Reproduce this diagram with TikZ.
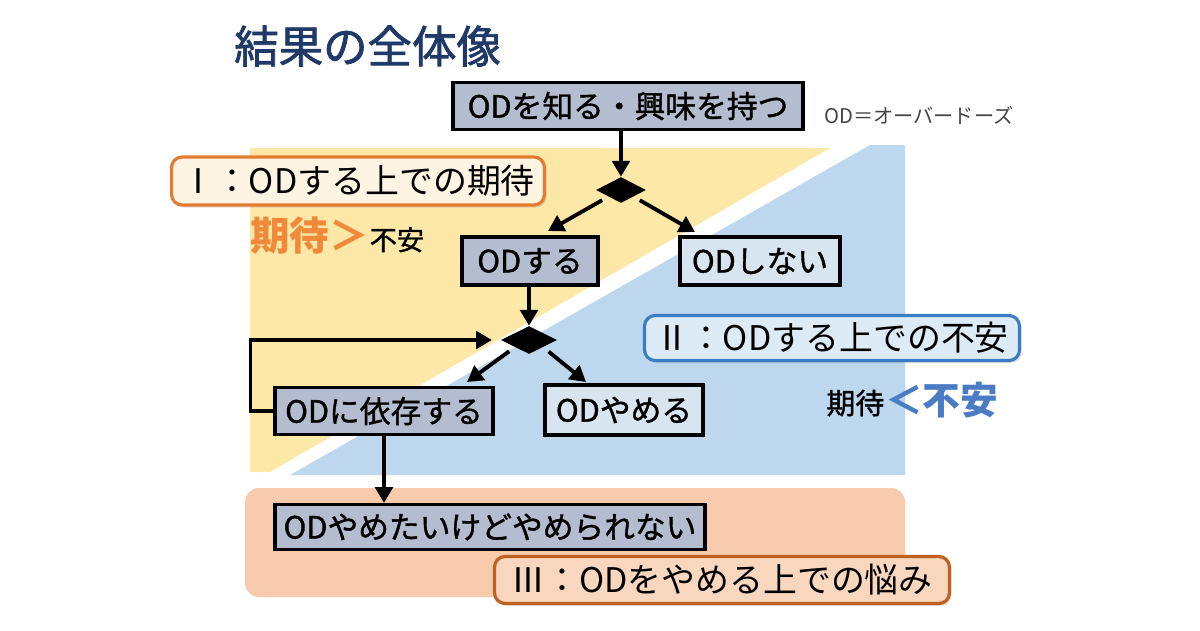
\documentclass[tikz,border=0pt]{standalone}
\usepackage{fontspec}
\setmainfont{Noto Sans CJK JP}
\newfontfamily\jpmed[FakeBold=1.2]{Noto Sans CJK JP}
\newfontfamily\jptitle[FakeBold=1.6]{Noto Sans CJK JP}
\usetikzlibrary{arrows.meta,shapes.geometric,shadows,calc}
\definecolor{yel}{HTML}{FEE8A8}
\definecolor{blu}{HTML}{BDD7EE}
\definecolor{sal}{HTML}{F8CBAD}
\definecolor{gfill}{HTML}{B4BDD0}
\definecolor{bfill}{HTML}{D9E4F1}
\definecolor{l1fill}{HTML}{FEF4E4}
\definecolor{l1draw}{HTML}{E47B2F}
\definecolor{l2fill}{HTML}{DDEBF7}
\definecolor{l2draw}{HTML}{3B7DC4}
\definecolor{l3fill}{HTML}{F9D6BE}
\definecolor{l3draw}{HTML}{C0601E}
\definecolor{titlec}{HTML}{1F3A68}
\definecolor{orng}{HTML}{F08A3A}
\definecolor{blutxt}{HTML}{4A7BC4}
\definecolor{notec}{HTML}{444444}
\tikzset{
  boxbase/.style={draw=black, line width=1.8pt, inner sep=0pt, align=center,
    font=\jpmed\fontsize{17.5}{20}\selectfont},
  gbox/.style={boxbase, fill=gfill},
  bbox/.style={boxbase, fill=bfill},
  labbase/.style={rounded corners=6pt, line width=1.8pt, inner sep=0pt,
    font=\fontsize{19.3}{22}\selectfont,
    drop shadow={opacity=0.25, shadow xshift=1.2pt, shadow yshift=-1.5pt}},
  lab1/.style={labbase, draw=l1draw, fill=l1fill},
  lab2/.style={labbase, draw=l2draw, fill=l2fill},
  lab3/.style={labbase, draw=l3draw, fill=l3fill},
  dia/.style={diamond, fill=black, inner sep=0pt},
  arr/.style={line width=2.2pt, -{Triangle[length=9pt,width=10pt]}},
}
\begin{document}
\begin{tikzpicture}[x=0.02cm,y=-0.02cm]
\useasboundingbox (0,0) rectangle (1200,630);
\fill[white] (0,0) rectangle (1200,630);
% background regions
\fill[yel] (250,148) -- (830,148) -- (270,472) -- (250,472) -- cycle;
\fill[blu] (870,145) -- (905,145) -- (905,475) -- (290,475) -- cycle;
\fill[sal, rounded corners=8pt] (245,488) rectangle (905,597);
% title
\node[anchor=west, text=titlec, font=\jptitle\fontsize{25.3}{28}\selectfont] (title) at (228,46) {結果の全体像};
% flow nodes
\node[gbox, minimum width=7cm, minimum height=0.94cm] (know) at (628,106) {ODを知る・興味を持つ};
\node[anchor=west, text=notec, font=\fontsize{11.5}{13}\selectfont] (odnote) at (818,115) {OD＝オーバードーズ};
\node[dia, minimum width=1cm, minimum height=0.52cm] (d1) at (621,190) {};
\node[gbox, minimum width=2.72cm, minimum height=0.96cm] (do) at (530,261) {ODする};
\node[bbox, minimum width=3.2cm, minimum height=0.96cm] (dont) at (760,261) {ODしない};
\node[dia, minimum width=1.12cm, minimum height=0.56cm] (d2) at (529,340) {};
\node[gbox, minimum width=4.36cm, minimum height=0.94cm] (dep) at (384,411) {ODに依存する};
\node[bbox, minimum width=3.16cm, minimum height=1cm] (quit) at (624,410) {ODやめる};
\node[gbox, minimum width=8.6cm, minimum height=0.9cm] (cant) at (490,527) {ODやめたいけどやめられない};
% labels
\node[lab1, minimum width=7.46cm, minimum height=0.96cm] (l1) at (358,181) {Ⅰ：ODする上での期待};
\node[lab2, minimum width=7.5cm, minimum height=0.9cm] (l2) at (832,338) {Ⅱ：ODする上での不安};
\node[lab3, minimum width=9.1cm, minimum height=0.94cm] (l3) at (722,580) {Ⅲ：ODをやめる上での悩み};
% comparison texts
\node[anchor=base west, inner sep=0pt, text=orng, font=\fontsize{22.5}{26}\selectfont\bfseries] (e1a) at (250,250) {期待＞};
\node[anchor=base west, inner sep=0pt, font=\jpmed\fontsize{15.5}{18}\selectfont] (e1b) at (e1a.base east) {不安};
\node[anchor=base west, inner sep=0pt, font=\jpmed\fontsize{16.5}{19}\selectfont] (e2a) at (826,414) {期待};
\node[anchor=base west, inner sep=0pt, text=blutxt, font=\fontsize{21.5}{24}\selectfont\bfseries] (e2b) at (e2a.base east) {＜不安};
% connectors
\coordinate (t1) at (548,231);
\coordinate (t2) at (695,232);
\coordinate (t3) at (467,382);
\coordinate (t4) at (586,382);
\draw[arr] (know.south -| d1) -- (d1.north);
\draw[arr, shorten <=4pt] (d1.south west) -- (t1);
\draw[arr, shorten <=4pt] (d1.south east) -- (t2);
\draw[arr] (do.south -| d2) -- (d2.north);
\draw[arr, shorten <=4pt] (d2.south west) -- (t3);
\draw[arr, shorten <=4pt] (d2.south east) -- (t4);
\draw[arr, shorten >=5pt] (dep.west) -- ++(-23,0) |- (d2.west);
\draw[arr] (dep.south) -- (dep.south |- cant.north);
\end{tikzpicture}
\end{document}
